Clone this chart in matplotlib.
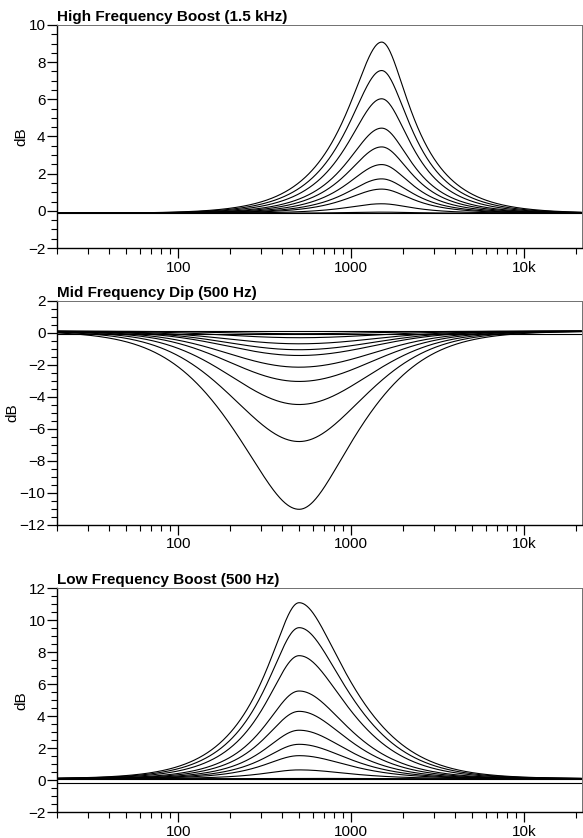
import numpy as np
import matplotlib
matplotlib.use('Agg')
import matplotlib.pyplot as plt
from matplotlib.ticker import FixedLocator, FixedFormatter, NullFormatter, MultipleLocator

plt.rcParams['font.family'] = ['Liberation Sans', 'DejaVu Sans']
plt.rcParams['axes.unicode_minus'] = True

# ── values (dB at the centre frequency) ─────────────────────────────────────
# each curve: level at centre, Q below centre, Q above centre
HF_TITLE = "High Frequency Boost (1.5 kHz)"
HF_CENTRE = 1500
HF_PEAKS = [9.08, 7.55, 6.03, 4.45, 3.44, 2.49, 1.72, 1.17, 0.38, -0.07]
HF_Q_LO = [0.85] * 10
HF_Q_HI = [1.0] * 10
HF_BASE = -0.13
HF_FLAT = None
HF_YLIM = (-2, 10)

MID_TITLE = "Mid Frequency Dip (500 Hz)"
MID_CENTRE = 500
MID_DIPS = [-11.02, -6.79, -4.48, -3.04, -2.15, -1.42, -1.06, -0.69, -0.31, -0.06]
MID_Q_LO = [0.45, 0.40, 0.38, 0.37, 0.36, 0.36, 0.36, 0.36, 0.36, 0.36]
MID_Q_HI = [0.50, 0.42, 0.38, 0.36, 0.35, 0.35, 0.35, 0.35, 0.35, 0.35]
MID_BASE = 0.1
MID_FLAT = -0.1
MID_YLIM = (-12, 2)

LF_TITLE = "Low Frequency Boost (500 Hz)"
LF_CENTRE = 500
LF_PEAKS = [11.10, 9.54, 7.79, 5.58, 4.31, 3.13, 2.25, 1.54, 0.65, 0.12]
LF_Q_LO = [0.85] * 10
LF_Q_HI = [0.6] * 10
LF_BASE = 0.1
LF_FLAT = -0.14
LF_YLIM = (-2, 12)

X_TICKS = [100, 1000, 10000]
X_TICK_LABELS = ["100", "1000", "10k"]
F_MIN, F_MAX = 20, 21500


def eq_db(f, f0, gain, q_lo, q_hi):
    # second-order peaking section, separate Q either side of the centre
    a = 10 ** (gain / 40)
    x = f / f0
    q = np.where(x < 1, q_lo, q_hi)
    num = (1 - x**2) ** 2 + (x * a / q) ** 2
    den = (1 - x**2) ** 2 + (x / (a * q)) ** 2
    return 10 * np.log10(num / den)


freqs = np.logspace(np.log10(F_MIN), np.log10(F_MAX), 800)

fig = plt.figure(figsize=(5.83, 8.38), dpi=100, facecolor='white')
W, H = 583, 838
# axes boxes in pixels: (left, top, right, bottom)
boxes = [(57.3, 25.0, 581.7, 248.0),
         (57.3, 300.7, 581.7, 525.0),
         (57.3, 588.3, 581.7, 812.3)]

panels = [
    (HF_TITLE, HF_CENTRE, HF_PEAKS, HF_Q_LO, HF_Q_HI, HF_BASE, HF_FLAT, HF_YLIM),
    (MID_TITLE, MID_CENTRE, MID_DIPS, MID_Q_LO, MID_Q_HI, MID_BASE, MID_FLAT, MID_YLIM),
    (LF_TITLE, LF_CENTRE, LF_PEAKS, LF_Q_LO, LF_Q_HI, LF_BASE, LF_FLAT, LF_YLIM),
]

minor_x = [m * 10 ** k for k in range(1, 5) for m in range(2, 10)]
minor_x = [v for v in minor_x if F_MIN <= v <= F_MAX]

for (l, t, r, b), (title, f0, levels, qlo, qhi, base, flat, ylim) in zip(boxes, panels):
    ax = fig.add_axes([l / W, 1 - b / H, (r - l) / W, (b - t) / H])
    for lev, q1, q2 in zip(levels, qlo, qhi):
        ax.plot(freqs, base + eq_db(freqs, f0, lev - base, q1, q2),
                color='black', lw=0.8, solid_capstyle='butt')
    ax.plot(freqs, np.full_like(freqs, base), color='black', lw=0.8)
    if flat is not None:
        ax.plot(freqs, np.full_like(freqs, flat), color='black', lw=0.8)

    ax.set_xscale('log')
    ax.set_xlim(F_MIN, F_MAX)
    ax.set_ylim(*ylim)
    ax.xaxis.set_major_locator(FixedLocator(X_TICKS))
    ax.xaxis.set_major_formatter(FixedFormatter(X_TICK_LABELS))
    ax.xaxis.set_minor_locator(FixedLocator(minor_x))
    ax.xaxis.set_minor_formatter(NullFormatter())
    ax.yaxis.set_major_locator(MultipleLocator(2))
    ax.yaxis.set_minor_locator(MultipleLocator(0.5))

    ax.tick_params(which='major', direction='out', length=7, width=0.9,
                   labelsize=11, pad=1.5, colors='black')
    ax.tick_params(which='minor', direction='out', length=4, width=0.8)
    ax.tick_params(axis='x', which='major', labelsize=11, pad=2)
    for side in ('top', 'right'):
        ax.spines[side].set_color('#707070')
        ax.spines[side].set_linewidth(0.7)
    for side in ('left', 'bottom'):
        ax.spines[side].set_color('black')
        ax.spines[side].set_linewidth(1.0)

    ax.set_ylabel('dB', fontsize=11, labelpad=0)
    ax.set_title(title, loc='left', fontsize=11, fontweight='bold', pad=3)

fig.savefig('out.png', dpi=100, facecolor='white')
